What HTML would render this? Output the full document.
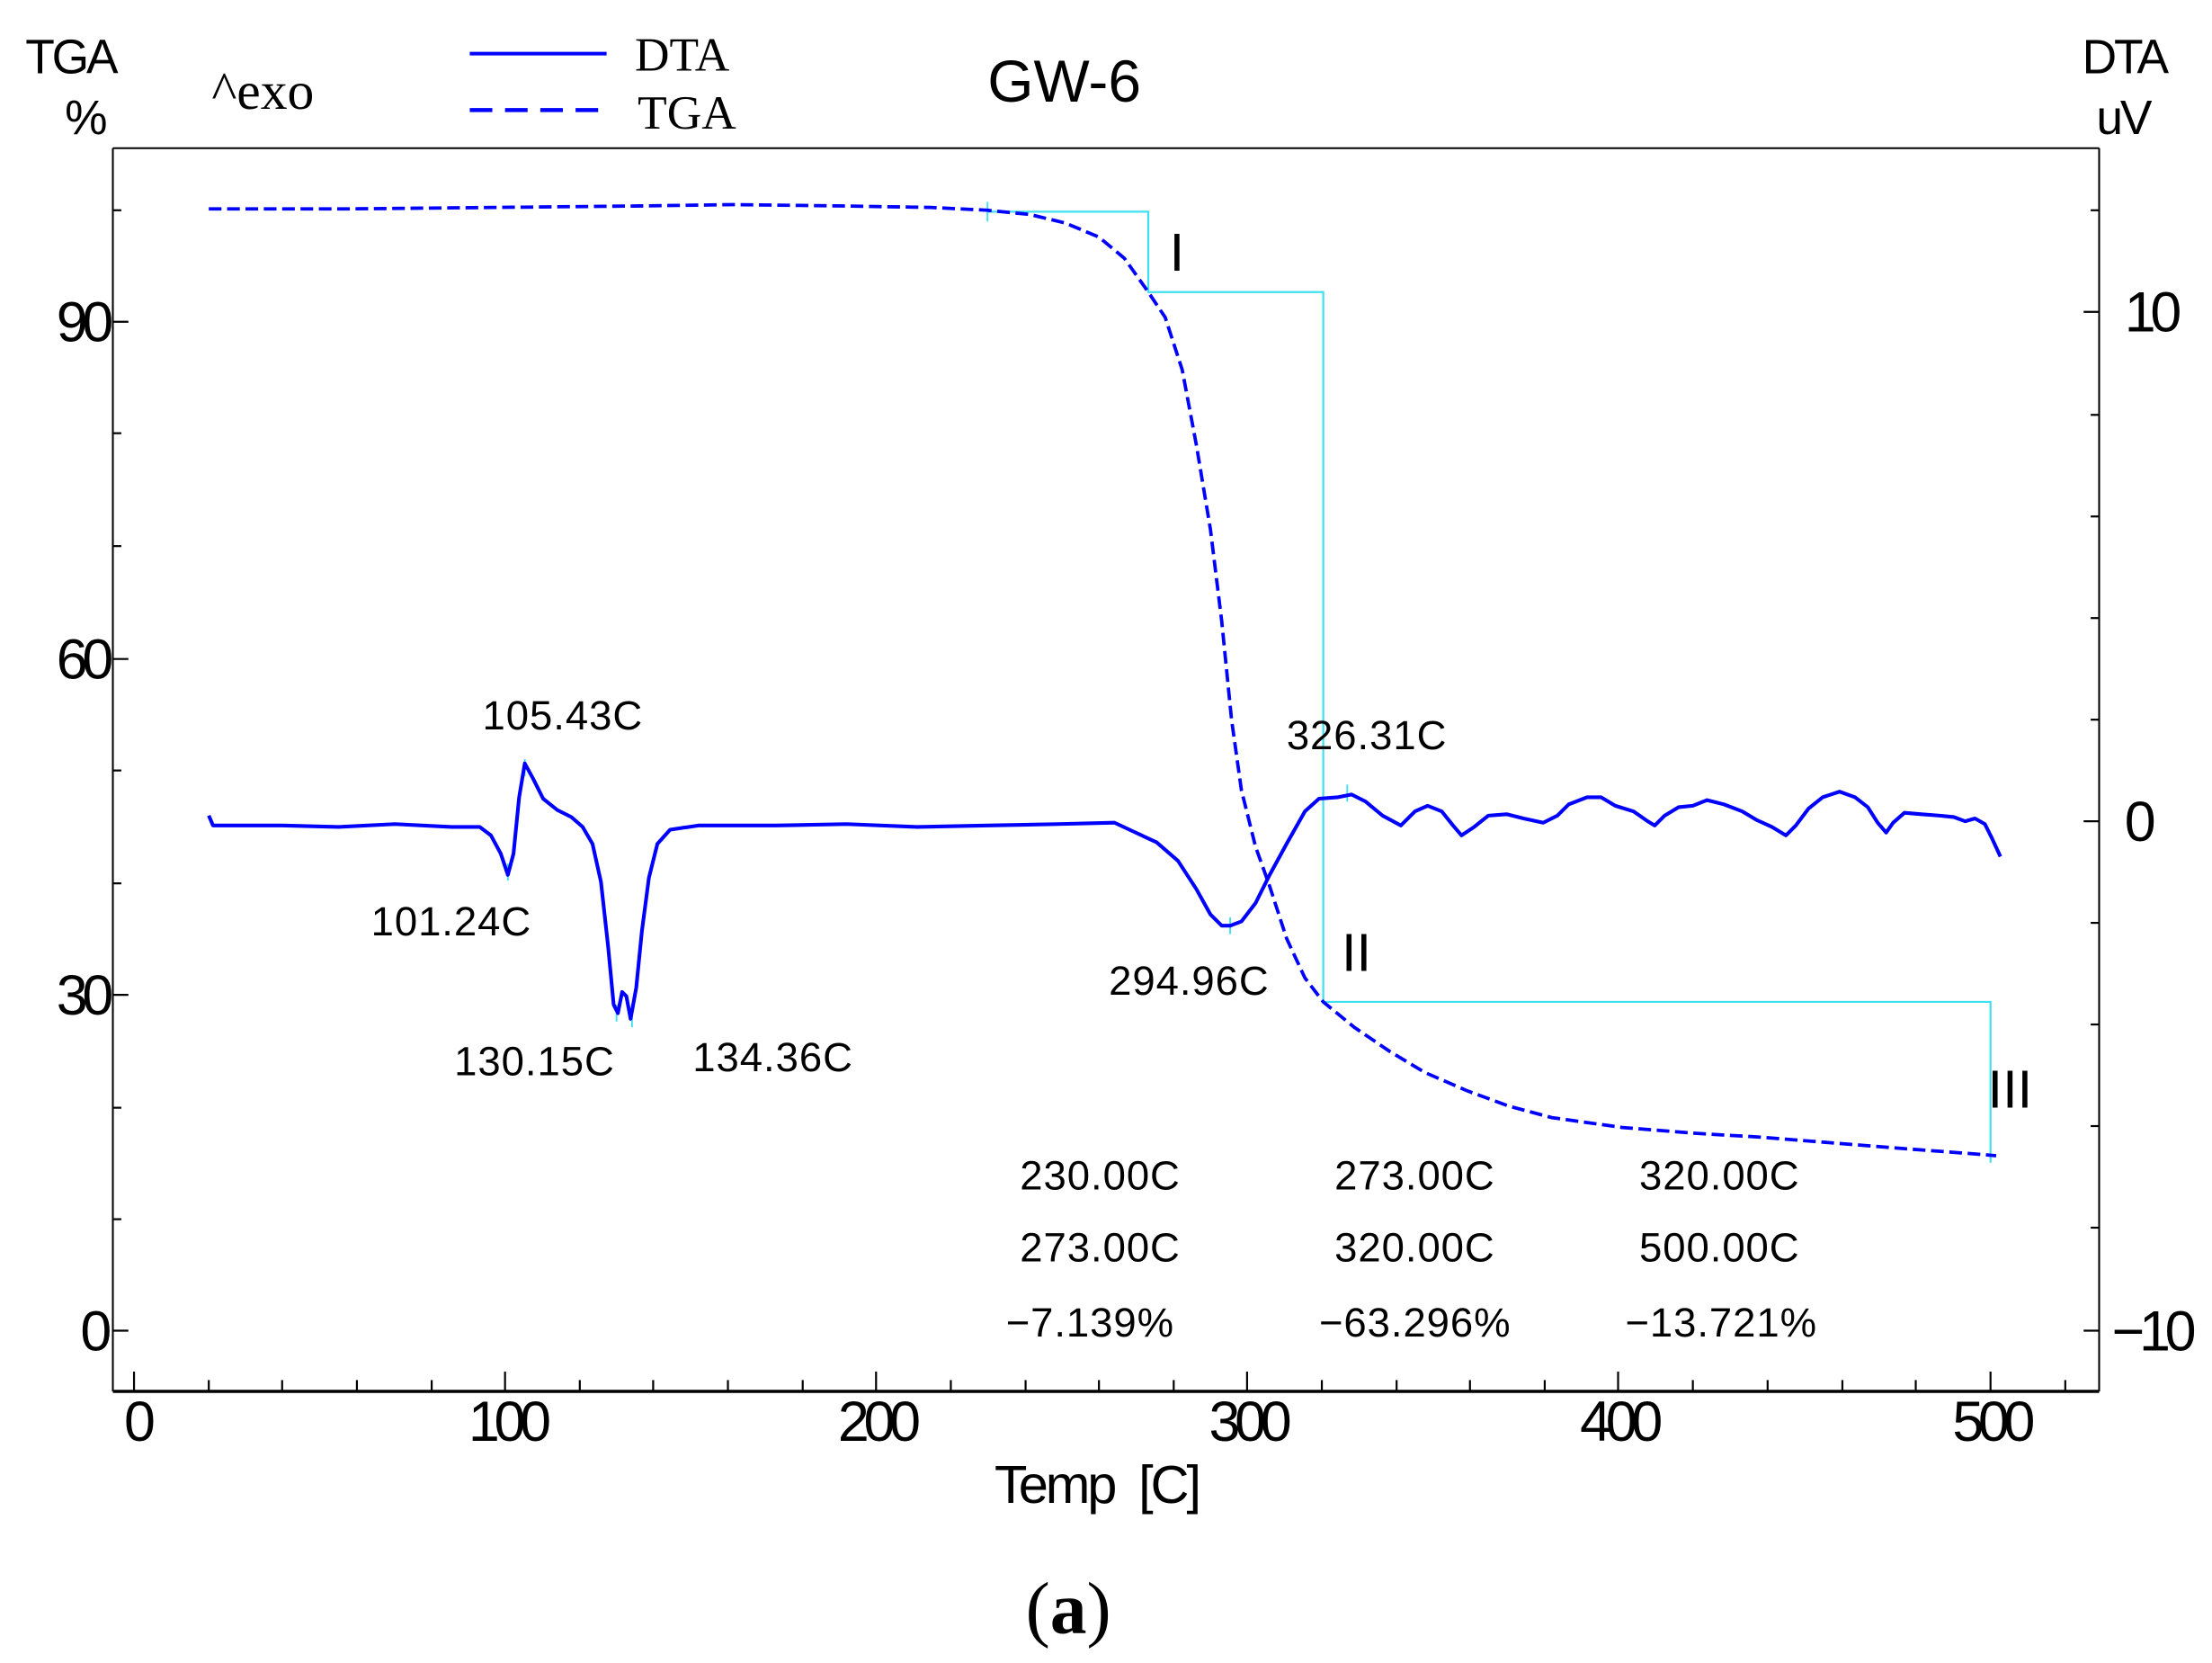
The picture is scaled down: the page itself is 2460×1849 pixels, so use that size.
<!DOCTYPE html>
<html><head><meta charset="utf-8"><style>
html,body{margin:0;padding:0;background:#fff;}
svg{display:block;}
text{font-family:"Liberation Sans",sans-serif;fill:#000;}
.s{font-family:"Liberation Serif",serif;}
.t{font-size:40px;letter-spacing:-4px;}
.a{font-size:29px;letter-spacing:0.6px;}
</style></head><body>
<svg width="2460" height="1849" viewBox="0 0 1568 1178.5" preserveAspectRatio="none" xmlns="http://www.w3.org/2000/svg">
<rect width="1568" height="1178.5" fill="#fff"/>
<g stroke="#000" stroke-width="1.3" fill="none">
<line x1="80" y1="105" x2="1488" y2="105"/>
<line x1="80" y1="105" x2="80" y2="986"/>
<line x1="1488" y1="105" x2="1488" y2="986"/>
</g>
<line x1="80" y1="986" x2="1488" y2="986" stroke="#000" stroke-width="2.2"/>
<g stroke="#000" stroke-width="1.4">
<line x1="95" y1="986" x2="95" y2="972"/><line x1="358" y1="986" x2="358" y2="972"/><line x1="621" y1="986" x2="621" y2="972"/><line x1="884" y1="986" x2="884" y2="972"/><line x1="1147" y1="986" x2="1147" y2="972"/><line x1="1411" y1="986" x2="1411" y2="972"/>
<line x1="148" y1="986" x2="148" y2="978"/><line x1="200" y1="986" x2="200" y2="978"/><line x1="253" y1="986" x2="253" y2="978"/><line x1="306" y1="986" x2="306" y2="978"/>
<line x1="411" y1="986" x2="411" y2="978"/><line x1="463" y1="986" x2="463" y2="978"/><line x1="516" y1="986" x2="516" y2="978"/><line x1="569" y1="986" x2="569" y2="978"/>
<line x1="674" y1="986" x2="674" y2="978"/><line x1="727" y1="986" x2="727" y2="978"/><line x1="779" y1="986" x2="779" y2="978"/><line x1="832" y1="986" x2="832" y2="978"/>
<line x1="937" y1="986" x2="937" y2="978"/><line x1="990" y1="986" x2="990" y2="978"/><line x1="1042" y1="986" x2="1042" y2="978"/><line x1="1095" y1="986" x2="1095" y2="978"/>
<line x1="1200" y1="986" x2="1200" y2="978"/><line x1="1253" y1="986" x2="1253" y2="978"/><line x1="1306" y1="986" x2="1306" y2="978"/><line x1="1358" y1="986" x2="1358" y2="978"/>
<line x1="1464" y1="986" x2="1464" y2="978"/>
<line x1="80" y1="228" x2="91" y2="228"/><line x1="80" y1="467" x2="91" y2="467"/><line x1="80" y1="705" x2="91" y2="705"/><line x1="80" y1="943" x2="91" y2="943"/>
<line x1="80" y1="149" x2="86" y2="149"/><line x1="80" y1="307" x2="86" y2="307"/><line x1="80" y1="387" x2="86" y2="387"/><line x1="80" y1="546" x2="86" y2="546"/><line x1="80" y1="626" x2="86" y2="626"/><line x1="80" y1="785" x2="86" y2="785"/><line x1="80" y1="864" x2="86" y2="864"/>
<line x1="1488" y1="221" x2="1477" y2="221"/><line x1="1488" y1="582" x2="1477" y2="582"/><line x1="1488" y1="943" x2="1477" y2="943"/>
<line x1="1488" y1="149" x2="1482" y2="149"/><line x1="1488" y1="294" x2="1482" y2="294"/><line x1="1488" y1="366" x2="1482" y2="366"/><line x1="1488" y1="438" x2="1482" y2="438"/><line x1="1488" y1="510" x2="1482" y2="510"/><line x1="1488" y1="654" x2="1482" y2="654"/><line x1="1488" y1="726" x2="1482" y2="726"/><line x1="1488" y1="798" x2="1482" y2="798"/><line x1="1488" y1="870" x2="1482" y2="870"/>
</g>
<polyline points="700,150 814,150 814,207 938,207 938,710 1411,710 1411,824" fill="none" stroke="#3fe0f0" stroke-width="1.4"/>
<g stroke="#3fe0f0" stroke-width="1.2">
<line x1="360" y1="612" x2="360" y2="624"/><line x1="372" y1="538" x2="372" y2="550"/><line x1="437" y1="712" x2="437" y2="724"/><line x1="448" y1="716" x2="448" y2="728"/><line x1="872" y1="650" x2="872" y2="662"/><line x1="955" y1="556" x2="955" y2="568"/><line x1="700" y1="143" x2="700" y2="157"/>
</g>
<polyline fill="none" stroke="#0000ff" stroke-width="2.4" stroke-dasharray="9,4"
points="148,148 250,148 350,147 450,146 520,145 600,146 660,147 700,149 730,152 755,158 779,168 797,183 814,207 826,225 838,262 848,315 858,375 866,440 873,510 880,560 890,600 900,628 912,665 925,693 938,710 960,728 985,745 1010,760 1040,773 1070,784 1100,792 1150,799 1200,803 1250,806 1300,810 1350,814 1390,817 1415,819"/>
<polyline fill="none" stroke="#0000ff" stroke-width="2.6" stroke-linejoin="round"
points="148,578 151,585 200,585 240,586 280,584 320,586 340,586 348,592 355,605 360,620 364,605 368,565 372,541 378,552 385,566 395,574 405,579 413,586 420,598 426,625 431,670 435,712 438,718 441,703 444,706 447,722 451,700 455,660 460,622 466,598 475,588 495,585 550,585 600,584 650,586 700,585 750,584 790,583 805,590 820,597 835,610 848,630 858,648 866,656 872,656 880,653 890,640 900,620 912,598 925,575 935,566 948,565 958,563 968,568 980,578 993,585 1003,575 1012,571 1022,575 1030,585 1036,592 1045,586 1055,578 1068,577 1080,580 1094,583 1104,578 1112,570 1125,565 1135,565 1145,571 1158,575 1168,582 1173,585 1180,578 1190,572 1200,571 1210,567 1222,570 1235,575 1245,581 1256,586 1266,592 1273,585 1282,573 1292,565 1304,561 1315,565 1324,572 1331,583 1337,590 1342,583 1350,576 1362,577 1375,578 1385,579 1393,582 1400,580 1407,584 1412,594 1418,607"/>
<line x1="333" y1="38" x2="430" y2="38" stroke="#0000ff" stroke-width="2.6"/>
<line x1="333" y1="78" x2="430" y2="78" stroke="#0000ff" stroke-width="2.8" stroke-dasharray="16,9"/>
<text class="s" x="450" y="50" font-size="34">DTA</text>
<text class="s" x="452" y="91" font-size="34">TGA</text>
<text class="s" x="150" y="77" font-size="38">^exo</text>
<text x="18" y="52" font-size="34" letter-spacing="-2">TGA</text>
<text x="46" y="95" font-size="34">%</text>
<text x="700" y="72" font-size="42" letter-spacing="0">GW-6</text>
<text x="1476" y="52" font-size="34" letter-spacing="-2">DTA</text>
<text x="1486" y="95" font-size="34" letter-spacing="-2">uV</text>
<text class="t" x="40" y="242">90</text>
<text class="t" x="40" y="481">60</text>
<text class="t" x="40" y="719">30</text>
<text class="t" x="57" y="957">0</text>
<text class="t" x="1506" y="235">10</text>
<text class="t" x="1506" y="596">0</text>
<text class="t" x="1497" y="957">−10</text>
<text class="t" x="88" y="1021">0</text>
<text class="t" x="332" y="1021">100</text>
<text class="t" x="594" y="1021">200</text>
<text class="t" x="857" y="1021">300</text>
<text class="t" x="1120" y="1021">400</text>
<text class="t" x="1384" y="1021">500</text>
<text x="705" y="1065" font-size="38" letter-spacing="-2" xml:space="preserve">Temp  [C]</text>
<text class="s" x="727" y="1157" font-size="52">(<tspan font-weight="bold">a</tspan>)</text>
<text class="a" x="342" y="517">105.43C</text>
<text class="a" x="263" y="663">101.24C</text>
<text class="a" x="322" y="762">130.15C</text>
<text class="a" x="491" y="759">134.36C</text>
<text class="a" x="786" y="705">294.96C</text>
<text class="a" x="912" y="531">326.31C</text>
<text x="829" y="192" font-size="38">I</text>
<text x="951" y="688" font-size="38">II</text>
<text x="1409" y="785" font-size="38">III</text>
<text class="a" x="723" y="843">230.00C</text>
<text class="a" x="723" y="894">273.00C</text>
<text class="a" x="713" y="947">−7.139%</text>
<text class="a" x="946" y="843">273.00C</text>
<text class="a" x="946" y="894">320.00C</text>
<text class="a" x="935" y="947">−63.296%</text>
<text class="a" x="1162" y="843">320.00C</text>
<text class="a" x="1162" y="894">500.00C</text>
<text class="a" x="1152" y="947">−13.721%</text>
</svg>
</body></html>
